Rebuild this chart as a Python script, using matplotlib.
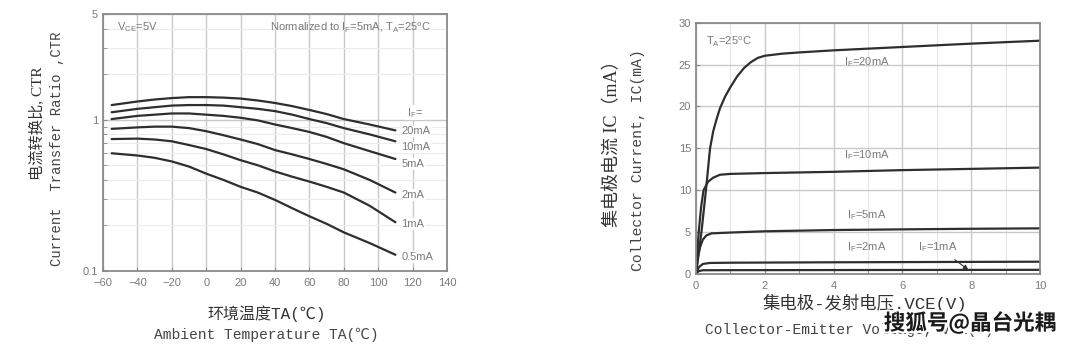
import matplotlib.pyplot as plt
import matplotlib.patheffects as pe
from matplotlib.ticker import FixedLocator, MultipleLocator, NullFormatter

plt.rcParams['font.family'] = ['Liberation Sans', 'Noto Sans CJK SC']

# 左图：CTR 与环境温度
temps = [-55, -40, -30, -20, -10, 0, 10, 20, 30, 40, 50, 60, 70, 80, 95, 110]
ctr_20ma = [1.25, 1.32, 1.36, 1.39, 1.41, 1.41, 1.40, 1.38, 1.34, 1.29, 1.23, 1.16, 1.09, 1.01, 0.93, 0.85]
ctr_10ma = [1.12, 1.18, 1.21, 1.24, 1.25, 1.25, 1.24, 1.21, 1.18, 1.14, 1.08, 1.01, 0.95, 0.88, 0.80, 0.72]
ctr_5ma = [1.01, 1.06, 1.08, 1.10, 1.10, 1.08, 1.06, 1.03, 0.99, 0.93, 0.88, 0.83, 0.77, 0.70, 0.62, 0.55]
ctr_2ma = [0.87, 0.89, 0.90, 0.90, 0.88, 0.84, 0.79, 0.74, 0.69, 0.63, 0.59, 0.55, 0.51, 0.47, 0.40, 0.33]
ctr_1ma = [0.745, 0.75, 0.74, 0.72, 0.68, 0.64, 0.59, 0.54, 0.50, 0.455, 0.42, 0.39, 0.36, 0.33, 0.27, 0.21]
ctr_05ma = [0.60, 0.58, 0.56, 0.53, 0.49, 0.44, 0.40, 0.36, 0.33, 0.295, 0.26, 0.23, 0.205, 0.18, 0.153, 0.128]
ctr_curves = [ctr_20ma, ctr_10ma, ctr_5ma, ctr_2ma, ctr_1ma, ctr_05ma]
ctr_labels = ['20mA', '10mA', '5mA', '2mA', '1mA', '0.5mA']
ctr_label_y = [0.84, 0.656, 0.51, 0.318, 0.204, 0.124]

# 右图：IC 与 VCE
vce_20 = [0, 0.16, 0.29, 0.41, 0.5, 0.6, 0.7, 0.85, 1.0, 1.2, 1.4, 1.6, 1.8, 2.0, 2.5, 3, 4, 6, 8, 10]
ic_20 = [0, 5, 10, 15, 17, 18.5, 19.8, 21.2, 22.3, 23.6, 24.6, 25.3, 25.8, 26.05, 26.3, 26.45, 26.7, 27.1, 27.5, 27.85]
vce_10 = [0, 0.08, 0.15, 0.22, 0.35, 0.5, 0.7, 1.0, 2, 4, 6, 8, 10]
ic_10 = [0, 5, 8, 10, 11, 11.5, 11.85, 11.95, 12.05, 12.2, 12.4, 12.55, 12.7]
vce_5 = [0, 0.06, 0.12, 0.2, 0.3, 0.45, 1, 2, 4, 6, 8, 10]
ic_5 = [0, 2, 3.2, 4.1, 4.6, 4.85, 4.95, 5.1, 5.25, 5.33, 5.4, 5.45]
vce_2 = [0, 0.08, 0.2, 0.4, 1, 4, 10]
ic_2 = [0, 0.8, 1.2, 1.32, 1.35, 1.4, 1.47]
vce_1 = [0, 0.08, 0.2, 1, 10]
ic_1 = [0, 0.35, 0.45, 0.46, 0.5]
ic_labels = ['$\\mathregular{I_F}$=20mA', '$\\mathregular{I_F}$=10mA',
             '$\\mathregular{I_F}$=5mA', '$\\mathregular{I_F}$=2mA']
ic_label_y = [25.3, 14.2, 7.0, 3.26]

line_c = '#2e2e2e'
grid_c = '#c9c9c9'
spine_c = '#8a8a8a'
tick_c = '#7a7a7a'

fig = plt.figure(figsize=(10.8, 3.48), dpi=100)

# ---------- 左图 ----------
ax1 = fig.add_axes([0.0954, 0.2213, 0.3185, 0.7385])
ax1.set_yscale('log')
ax1.set_xlim(-60, 140)
ax1.set_ylim(0.1, 5)
ax1.xaxis.set_major_locator(MultipleLocator(20))
ax1.yaxis.set_major_locator(FixedLocator([0.1, 1, 5]))
ax1.yaxis.set_minor_locator(FixedLocator([0.2, 0.3, 0.4, 0.5, 0.6, 0.7, 0.8, 0.9, 2, 3, 4]))
ax1.yaxis.set_major_formatter(plt.FuncFormatter(lambda v, p: f'{v:g}'))
ax1.yaxis.set_minor_formatter(NullFormatter())
ax1.grid(True, axis='x', color=grid_c, lw=1.0)
ax1.grid(True, axis='y', which='major', color=grid_c, lw=1.0)
ax1.grid(True, axis='y', which='minor', color='#ececec', lw=0.8)
for s in ax1.spines.values():
    s.set_color(spine_c)
    s.set_linewidth(1.3)
ax1.tick_params(which='both', direction='in', colors=spine_c, labelcolor=tick_c, labelsize=8, length=3)
ax1.tick_params(axis='x', pad=5)

for vals in ctr_curves:
    ax1.plot(temps, vals, color=line_c, lw=1.6, solid_capstyle='round')

ax1.text(-52, 4.1, '$\\mathregular{V_{CE}}$=5V', fontsize=8, color=tick_c, va='center', ha='left')
ax1.text(131, 4.1, 'Normalized to $\\mathregular{I_F}$=5mA, $\\mathregular{T_A}$=25$^\\mathregular{o}$C',
         fontsize=8, color=tick_c, va='center', ha='right')
ax1.text(121.4, 1.11, '$\\mathregular{I_F}$=', fontsize=8, color=tick_c, ha='center', va='center',
         bbox=dict(fc='white', ec='none', pad=0.5))
for lab, y in zip(ctr_labels, ctr_label_y):
    ax1.text(113.5, y, lab, fontsize=8, color=tick_c, ha='left', va='center',
             bbox=dict(fc='white', ec='none', pad=0.5))

fig.text(0.034, 0.646, '电流转换比, CTR', rotation=90, ha='center', va='center',
         fontsize=11, color='#333333', family=['Liberation Serif', 'Noto Sans CJK SC'])
fig.text(0.053, 0.572, 'Current  Transfer Ratio ,CTR', rotation=90, ha='center', va='center',
         fontsize=10, color='#444444', family=['Liberation Mono', 'Noto Sans CJK SC'])
fig.text(0.247, 0.100, '环境温度TA(℃)', ha='center', va='center', fontsize=11.5,
         color='#333333', family=['Liberation Mono', 'Noto Sans CJK SC'])
fig.text(0.247, 0.037, 'Ambient Temperature TA(℃)', ha='center', va='center', fontsize=10.5,
         color='#444444', family=['Liberation Mono', 'Noto Sans CJK SC'])

# ---------- 右图 ----------
ax2 = fig.add_axes([0.6444, 0.2126, 0.3185, 0.7222])
ax2.set_xlim(0, 10)
ax2.set_ylim(0, 30)
ax2.xaxis.set_major_locator(MultipleLocator(2))
ax2.xaxis.set_minor_locator(MultipleLocator(1))
ax2.yaxis.set_major_locator(MultipleLocator(5))
ax2.grid(True, which='major', color=grid_c, lw=1.0)
ax2.grid(True, axis='x', which='minor', color='#e4e4e4', lw=0.8)
for s in ax2.spines.values():
    s.set_color(spine_c)
    s.set_linewidth(1.3)
ax2.tick_params(which='both', direction='in', colors=spine_c, labelcolor=tick_c, labelsize=8, length=3)
ax2.tick_params(axis='x', pad=5)

for xs, ys in [(vce_20, ic_20), (vce_10, ic_10), (vce_5, ic_5), (vce_2, ic_2), (vce_1, ic_1)]:
    ax2.plot(xs, ys, color=line_c, lw=1.6, solid_capstyle='round', solid_joinstyle='round')

ax2.text(0.3, 27.7, '$\\mathregular{T_A}$=25$^\\mathregular{o}$C', fontsize=8, color=tick_c, ha='left', va='center')
for lab, y in zip(ic_labels, ic_label_y):
    ax2.text(4.98, y, lab, fontsize=8, color=tick_c, ha='center', va='center')
ax2.annotate('$\\mathregular{I_F}$=1mA', xy=(7.92, 0.5), xytext=(7.02, 3.26), fontsize=8,
             color=tick_c, ha='center', va='center',
             arrowprops=dict(arrowstyle='-|>', color='#333333', lw=0.8, mutation_scale=7,
                             shrinkA=4, shrinkB=0))

fig.text(0.5676, 0.600, '集电极电流 IC（mA）', rotation=90, ha='center', va='center',
         fontsize=13, color='#333333', family=['Liberation Serif', 'Noto Sans CJK SC'])
fig.text(0.5907, 0.540, 'Collector Current, IC(mA)', rotation=90, ha='center', va='center',
         fontsize=10.6, color='#444444', family=['Liberation Mono', 'Noto Sans CJK SC'])
fig.text(0.801, 0.129, '集电极-发射电压.VCE(V)', ha='center', va='center', fontsize=12.5,
         color='#333333', family=['Liberation Mono', 'Noto Sans CJK SC'])
fig.text(0.653, 0.052, 'Collector-Emitter Voltage, VCE(V)', ha='left', va='center', fontsize=10.5,
         color='#444444', family=['Liberation Mono', 'Noto Sans CJK SC'])

# 水印
fig.text(0.898, 0.072, '搜狐号@晶台光耦', ha='center', va='center', fontsize=15.5,
         fontweight='bold', color='#1a1a1a', family=['Noto Sans CJK SC', 'DejaVu Sans'],
         path_effects=[pe.withStroke(linewidth=3, foreground='white')])

fig.savefig('out.png', dpi=100)
